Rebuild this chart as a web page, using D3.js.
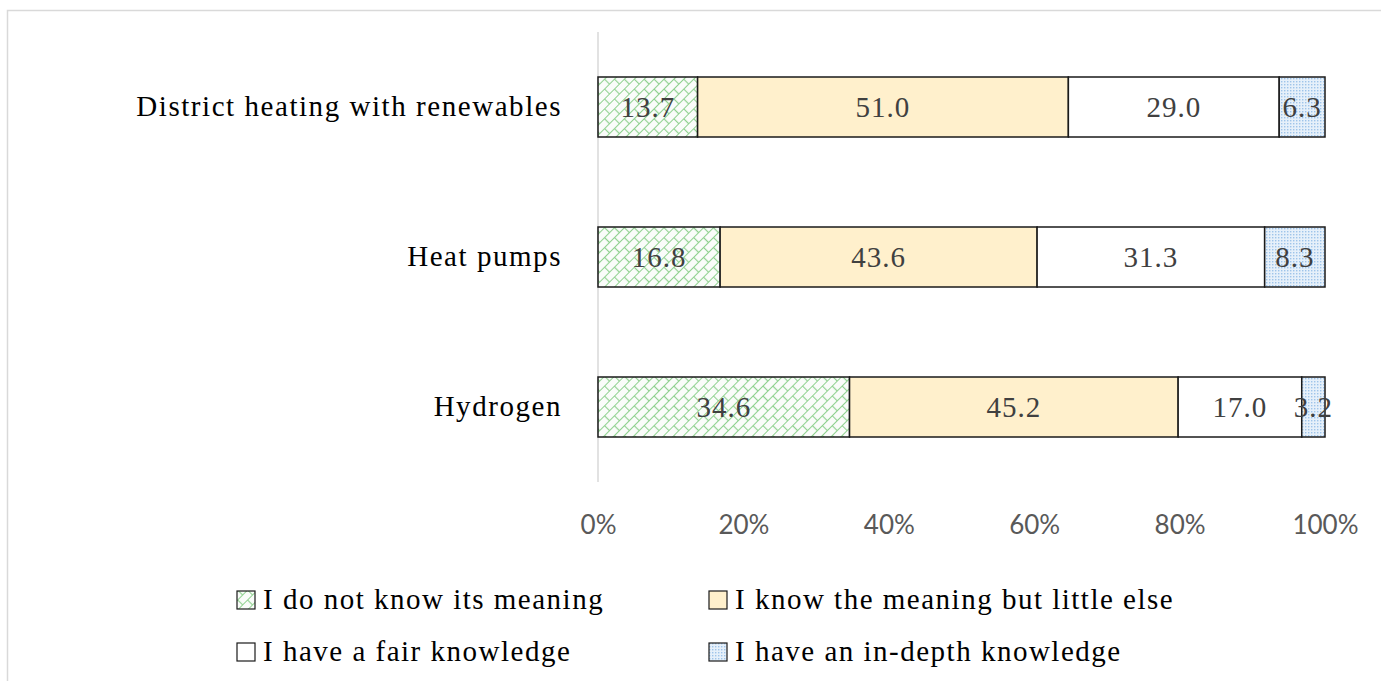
<!DOCTYPE html>
<html>
<head>
  <meta charset="utf-8">
  <title>Knowledge of heating technologies</title>
  <style>
    body { margin: 0; background: #fff; }
    svg { display: block; }
  </style>
</head>
<body>
  <script src="https://cdn.jsdelivr.net/npm/d3@7"></script>
  <script>
    // data
    var categories = ["District heating with renewables", "Heat pumps", "Hydrogen"];
    var levels = ["I do not know its meaning", "I know the meaning but little else",
                  "I have a fair knowledge", "I have an in-depth knowledge"];
    var noMeaning = [13.7, 16.8, 34.6];
    var littleElse = [51.0, 43.6, 45.2];
    var fairKnow = [29.0, 31.3, 17.0];
    var inDepth = [6.3, 8.3, 3.2];
    var xTicks = [0, 20, 40, 60, 80, 100];

    var w = 1381, h = 681;
    var serif = "'Liberation Serif', 'Times New Roman', serif";

    var svg = d3.select("body").append("svg").attr("width", w).attr("height", h);

    // patterns for the hatched fills
    var defs = svg.append("defs");
    var brick = defs.append("pattern")
      .attr("id", "brick")
      .attr("patternUnits", "userSpaceOnUse")
      .attr("width", 14).attr("height", 14)
      .attr("patternTransform", "rotate(-45)");
    brick.append("rect").attr("width", 14).attr("height", 14).attr("fill", "#fafcfa");
    brick.append("path")
      .attr("d", "M0,0.5H14M0,7.5H14M0.5,0V7M7.5,7V14")
      .attr("stroke", "#8fd18f").attr("stroke-width", 1.2).attr("fill", "none");

    var dots = defs.append("pattern")
      .attr("id", "dots")
      .attr("patternUnits", "userSpaceOnUse")
      .attr("width", 3).attr("height", 3);
    dots.append("rect").attr("width", 3).attr("height", 3).attr("fill", "#e6f0fa");
    dots.append("rect").attr("width", 1.4).attr("height", 1.4).attr("fill", "#9ec4ea");

    var fills = ["url(#brick)", "#fff0cc", "#ffffff", "url(#dots)"];

    // light frame around the figure
    svg.append("rect")
      .attr("x", 7.5).attr("y", 10.5)
      .attr("width", w).attr("height", h)
      .attr("fill", "none").attr("stroke", "#d9d9d9").attr("stroke-width", 1.5);

    var x = d3.scaleLinear().domain([0, 100]).range([598, 1325]);
    var y = d3.scaleBand().domain(categories).range([32, 482])
      .paddingInner(0.6).paddingOuter(0.3);

    // stacked rows
    var series = [noMeaning, littleElse, fairKnow, inDepth];
    var rows = categories.map(function(c, i) {
      var start = 0;
      return series.map(function(s, k) {
        var seg = { cat: c, k: k, x0: start, x1: start + s[i], v: s[i] };
        start += s[i];
        return seg;
      });
    });
    var segs = [].concat.apply([], rows);

    // vertical axis line
    svg.append("line")
      .attr("x1", x(0)).attr("x2", x(0))
      .attr("y1", 32).attr("y2", 482)
      .attr("stroke", "#d9d9d9").attr("stroke-width", 1.5);

    svg.selectAll("rect.seg")
      .data(segs)
      .enter()
      .append("rect")
      .attr("class", "seg")
      .attr("x", function(d) { return x(d.x0); })
      .attr("y", function(d) { return y(d.cat); })
      .attr("width", function(d) { return x(d.x1) - x(d.x0); })
      .attr("height", y.bandwidth())
      .attr("fill", function(d) { return fills[d.k]; })
      .attr("stroke", "#1a1a1a").attr("stroke-width", 1.5);

    svg.selectAll("text.val")
      .data(segs)
      .enter()
      .append("text")
      .attr("class", "val")
      .attr("x", function(d) { return (x(d.x0) + x(d.x1)) / 2; })
      .attr("y", function(d) { return y(d.cat) + y.bandwidth() / 2; })
      .attr("dy", "0.35em")
      .attr("text-anchor", "middle")
      .style("font-family", serif).style("font-size", "29px")
      .style("letter-spacing", "1px")
      .attr("fill", "#404040")
      .text(function(d) { return d.v.toFixed(1); });

    // category labels
    svg.selectAll("text.cat")
      .data(categories)
      .enter()
      .append("text")
      .attr("class", "cat")
      .attr("x", 562)
      .attr("y", function(d) { return y(d) + y.bandwidth() / 2; })
      .attr("dy", "0.3em")
      .attr("text-anchor", "end")
      .style("font-family", serif).style("font-size", "29px")
      .style("letter-spacing", "1.55px")
      .attr("fill", "#000")
      .text(function(d) { return d; });

    // x axis tick labels
    var xAxis = d3.axisBottom(x).tickValues(xTicks)
      .tickSize(0).tickPadding(0)
      .tickFormat(function(d) { return d + "%"; });
    var gx = svg.append("g").attr("transform", "translate(0,514)").call(xAxis);
    gx.select(".domain").remove();
    gx.selectAll("text")
      .attr("dy", "0.75em")
      .style("font-family", "Lato, 'Open Sans', sans-serif").style("font-size", "26px")
      .attr("fill", "#595959");

    // legend
    var legPos = [[237, 600], [709, 600], [237, 652], [709, 652]];
    var leg = svg.selectAll("g.leg")
      .data(levels)
      .enter()
      .append("g")
      .attr("class", "leg")
      .attr("transform", function(d, i) { return "translate(" + legPos[i][0] + "," + legPos[i][1] + ")"; });
    leg.append("rect")
      .attr("x", 0).attr("y", -9)
      .attr("width", 18).attr("height", 18)
      .attr("fill", function(d, i) { return fills[i]; })
      .attr("stroke", "#1a1a1a").attr("stroke-width", 1.2);
    leg.append("text")
      .attr("x", 26).attr("dy", "0.32em")
      .style("font-family", serif).style("font-size", "29px")
      .style("letter-spacing", "1.5px")
      .attr("fill", "#000")
      .text(function(d) { return d; });
  </script>
</body>
</html>
